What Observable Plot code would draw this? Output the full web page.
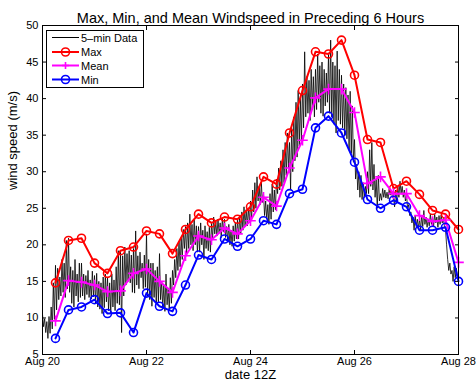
<!DOCTYPE html>
<html><head><meta charset="utf-8">
<script src="https://cdn.jsdelivr.net/npm/d3@7"></script>
<script src="https://cdn.jsdelivr.net/npm/@observablehq/plot@0.6"></script>
<style>
body{margin:0;background:#fff;font-family:"Liberation Sans",Arial,sans-serif;}
#wrap{position:relative;width:476px;height:385px;}
#legend{position:absolute;left:46px;top:30px;}
</style></head><body><div id="wrap"></div>
<script>
// ---- data ----
const titleText = "Max, Min, and Mean Windspeed in Preceding 6 Hours";
const yLabel = "wind speed (m/s)";
const xLabel = "date 12Z";
const xTickDays = [20, 22, 24, 26, 28];
const xTickLabels = ["Aug 20", "Aug 22", "Aug 24", "Aug 26", "Aug 28"];
const yTicks = [5, 10, 15, 20, 25, 30, 35, 40, 45, 50];
const seriesNames = ["5\u2013min Data", "Max", "Mean", "Min"];

// 6-hourly statistics (window ending times, Aug 20 06Z ... Aug 28 00Z)
const maxSpeed = [14.8,20.6,20.9,17.5,16.1,19.2,19.7,21.9,21.5,18.8,22.1,24.2,23.0,23.8,23.5,25.2,29.3,28.3,35.3,41.1,46.4,46.1,48.0,43.2,34.4,34.0,27.7,28.7,26.9,24.7,24.2,22.1];
const meanSpeed = [9.6,15.1,14.9,14.5,13.6,13.7,16.1,16.7,15.0,13.5,18.5,21.2,20.7,22.3,21.5,23.3,26.5,25.3,30.5,34.3,40.1,41.3,41.3,38.1,28.4,29.3,27.0,27.0,24.0,23.2,23.4,17.6];
const minSpeed = [7.2,11.1,11.5,12.5,10.6,10.7,8.0,13.4,11.6,10.9,14.5,18.6,18.0,20.8,19.8,20.8,23.3,22.8,27.0,27.6,36.0,37.6,35.3,31.3,26.2,25.0,26.1,25.2,22.0,22.0,22.4,15.0];

// 5-min data, read as alternating high/low per half hour from Aug 20 00Z
const obsSpeed = [
10.5,8.8,9.9,8.0,9.5,7.2,10.2,7.9,11.5,8.5,14.8,9.8,
17.2,11.1,16.8,12.5,15.6,13.0,18.0,13.5,17.5,12.8,20.6,14.0,
20.9,13.5,17.0,12.0,16.5,11.5,18.0,13.0,16.0,12.2,17.5,12.8,
17.5,13.0,16.0,12.5,15.8,13.2,16.5,12.8,15.2,12.6,16.4,12.9,
15.8,12.0,16.1,11.5,15.0,11.2,14.8,10.6,15.6,11.4,16.0,12.2,
15.5,11.0,14.8,10.7,16.0,11.5,15.2,11.0,17.0,12.0,19.2,11.8,
19.0,8.0,18.5,13.0,19.7,14.5,18.8,15.0,19.2,14.8,18.6,13.5,
19.5,13.4,21.9,14.5,18.5,14.0,19.0,15.5,17.5,14.0,18.6,14.2,
21.5,13.0,18.0,12.5,17.5,11.6,17.5,12.8,16.5,12.0,17.0,12.2,
18.8,12.5,15.0,11.5,14.5,10.9,16.0,11.8,14.0,11.2,15.5,12.0,
16.5,14.5,18.0,15.5,19.5,16.5,20.5,17.0,21.0,18.0,22.1,19.5,
22.5,18.6,23.0,19.5,24.2,20.0,22.8,19.2,23.5,20.0,22.6,19.0,
22.5,19.0,23.0,20.0,22.0,18.0,22.6,19.5,21.8,19.2,22.4,19.0,
23.0,20.8,23.8,21.5,23.2,21.2,23.5,21.6,23.0,21.0,23.6,21.8,
23.5,21.0,22.5,20.5,22.8,20.0,22.0,19.8,22.6,20.5,23.0,20.8,
23.5,20.8,24.0,21.5,24.5,22.0,25.2,22.5,24.8,22.6,25.0,23.0,
26.0,23.3,27.5,24.5,28.5,25.0,29.3,26.0,28.0,25.5,28.5,25.8,
27.0,24.0,26.0,23.5,25.5,22.8,27.0,23.5,28.3,24.5,27.5,24.8,
29.0,27.0,30.5,27.5,31.5,28.0,33.0,28.5,34.0,29.5,35.3,30.5,
34.0,27.6,36.0,30.0,37.5,31.5,39.5,32.0,41.1,33.5,40.0,34.0,
42.0,36.0,46.4,37.5,43.0,38.0,42.5,37.0,44.0,38.5,43.0,37.5,
44.0,38.5,46.1,39.5,44.5,38.0,45.0,37.6,44.0,39.0,43.5,39.5,
46.0,38.0,48.0,37.5,45.0,36.5,44.5,35.3,46.5,37.0,44.0,36.5,
43.2,36.0,42.0,35.0,41.5,34.5,40.5,33.0,41.0,32.5,39.0,31.3,
34.4,29.0,31.0,27.5,30.0,26.5,29.5,26.2,28.5,26.5,28.0,27.0,
30.0,27.0,33.0,28.0,34.0,27.5,31.0,26.5,29.0,25.0,29.5,26.0,
27.0,26.1,27.7,26.5,27.5,26.4,27.2,26.3,27.6,26.8,27.4,26.5,
26.5,25.2,27.5,26.0,28.0,26.5,28.7,27.0,28.0,26.5,27.5,26.0,
26.9,25.0,25.5,24.0,24.5,23.0,23.8,22.0,24.0,22.5,23.5,22.3,
23.5,22.0,24.0,22.5,24.7,22.8,23.8,22.4,23.5,22.6,24.2,22.8,
23.8,22.5,24.2,23.0,23.8,22.4,24.0,22.8,24.1,23.0,23.6,22.6,
22.1,20.0,18.0,16.5,17.5,16.0,16.5,15.0,17.0,15.5,16.8,15.8
];

// ---- build tables ----
const HOUR = 3600e3;
const t0 = Date.UTC(2008, 7, 20);
const stats = maxSpeed.map((v, i) => ({t: new Date(t0 + (i + 1) * 6 * HOUR), max: v, mean: meanSpeed[i], min: minSpeed[i]}));
const obs = obsSpeed.map((v, i) => ({t: new Date(t0 + i * 0.5 * HOUR), v}));
const xTicks = xTickDays.map(d => new Date(Date.UTC(2008, 7, d)));
const labelOf = new Map(xTicks.map((d, i) => [+d, xTickLabels[i]]));

const FONT = '"Liberation Sans", Arial, Helvetica, sans-serif';
const chart = Plot.plot({
  width: 476, height: 385,
  marginLeft: 42, marginRight: 18, marginTop: 25, marginBottom: 31,
  style: {fontFamily: FONT, fontSize: "11px", background: "white", color: "black", overflow: "visible"},
  x: {type: "utc", domain: [xTicks[0], xTicks[xTicks.length - 1]]},
  y: {domain: [5, 50]},
  marks: [
    Plot.line(obs, {x: "t", y: "v", stroke: "black", strokeWidth: 0.8}),
    Plot.line(stats, {x: "t", y: "max", stroke: "#ff0000", strokeWidth: 2}),
    Plot.dot(stats, {x: "t", y: "max", stroke: "#ff0000", r: 4, strokeWidth: 1.6, fill: "none"}),
    Plot.line(stats, {x: "t", y: "mean", stroke: "#ff00ff", strokeWidth: 2}),
    Plot.dot(stats, {x: "t", y: "mean", stroke: "#ff00ff", symbol: "plus", r: 3.5, strokeWidth: 1.6}),
    Plot.line(stats, {x: "t", y: "min", stroke: "#0000ff", strokeWidth: 2}),
    Plot.dot(stats, {x: "t", y: "min", stroke: "#0000ff", r: 4, strokeWidth: 1.6, fill: "none"}),
    Plot.frame({stroke: "black", strokeWidth: 1}),
    Plot.axisY(yTicks, {anchor: "left", tickSize: -4, tickPadding: 8, label: null}),
    Plot.axisY(yTicks, {anchor: "right", tickSize: -4, tickFormat: () => "", label: null}),
    Plot.axisX(xTicks, {anchor: "bottom", tickSize: -4, tickPadding: 7, tickFormat: d => labelOf.get(+d), label: null}),
    Plot.axisX(xTicks, {anchor: "top", tickSize: -4, tickFormat: () => "", label: null}),
    Plot.text([titleText], {frameAnchor: "top", dy: -12.5}),
    Plot.text([yLabel], {frameAnchor: "left", rotate: -90, dx: -30}),
    Plot.text([xLabel], {frameAnchor: "bottom", dy: 24.5})
  ]
});
// enlarge title and axis titles (inline style)
d3.select(chart).selectAll("text").each(function () {
  const t = this.textContent;
  if (t === titleText) this.style.fontSize = "14.5px";
  else if (t === yLabel || t === xLabel) this.style.fontSize = "13px";
});
const wrap = document.getElementById("wrap");
wrap.appendChild(chart);

// legend overlay
const colors = ["black", "#ff0000", "#ff00ff", "#0000ff"];
const rowY = [7.5, 22, 35.5, 49.5];
let s = `<svg width="98" height="59" xmlns="http://www.w3.org/2000/svg" style="font-family:${FONT.replace(/"/g, "'")};font-size:11px">`;
s += `<rect x="0.5" y="0.5" width="97" height="57" fill="white" stroke="black"/>`;
seriesNames.forEach((name, i) => {
  const y = rowY[i];
  s += `<line x1="6" x2="33" y1="${y}" y2="${y}" stroke="${colors[i]}" stroke-width="${i ? 2 : 1}"/>`;
  if (i === 1 || i === 3) s += `<circle cx="19.5" cy="${y}" r="4" fill="none" stroke="${colors[i]}" stroke-width="1.6"/>`;
  if (i === 2) s += `<path d="M16,${y}h7M19.5,${y - 3.5}v7" stroke="${colors[i]}" stroke-width="1.6"/>`;
  s += `<text x="35" y="${y + 4}" fill="black">${name}</text>`;
});
s += `</svg>`;
const lg = document.createElement("div");
lg.id = "legend";
lg.innerHTML = s;
wrap.appendChild(lg);
</script></body></html>
